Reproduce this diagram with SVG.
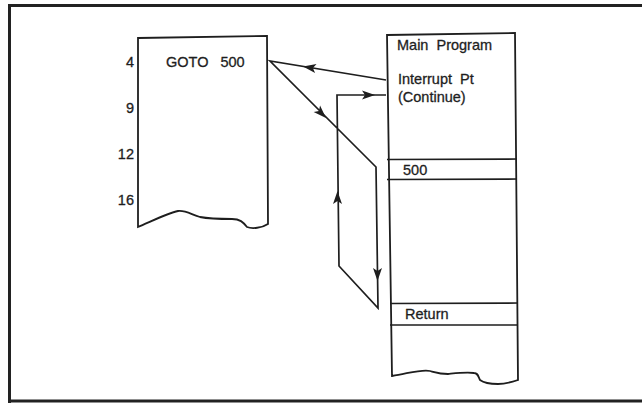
<svg xmlns="http://www.w3.org/2000/svg" width="642" height="403" viewBox="0 0 642 403">
<style>
  .ln { fill: none; stroke: #1e1e1e; stroke-width: 1.7; stroke-linejoin: miter; }
  .box { fill: #fff; stroke: #1e1e1e; stroke-width: 1.8; }
  .t { font-family: "Liberation Sans", Arial, sans-serif; font-size: 14.5px; fill: #1e1e1e; stroke: #1e1e1e; stroke-width: 0.3; word-spacing: 4px; }
  .ah { fill: #1e1e1e; }
</style>
<defs>
  <path id="ah" d="M0,0 L-13,-4.5 L-10,0 L-13,4.5 Z"/>
</defs>
<rect x="0" y="0" width="642" height="403" fill="#fff"/>
<g id="frame">
  <path d="M9.5,403 L9.5,5.5 L642,5.5 M9.5,401 L642,401" fill="none" stroke="#222" stroke-width="3"/>
</g>
<g id="left-listing">
  <path class="box" d="M138,38 L267,36 L268,224 C262,228 252,229 247,227 C243,222 240,219 232,219 C222,219 210,219 200,217 C192,215 186,210 178,211 C168,213 150,222 138,227 Z"/>
  <text class="t" x="166" y="67" style="word-spacing:8px">GOTO 500</text>
  <text class="t" x="134" y="67" text-anchor="end">4</text>
  <text class="t" x="134" y="113" text-anchor="end">9</text>
  <text class="t" x="134" y="159" text-anchor="end">12</text>
  <text class="t" x="134" y="205" text-anchor="end">16</text>
</g>
<g id="main-program">
  <path class="box" d="M387,35 L515,33 L518,380 C512,382 505,384 498,384 C490,384 484,383 480,380 C478,376 478,373 474,373 C466,372 458,373 448,374 C440,374 434,372 430,371 C422,369 410,373 392,376 Z"/>
  <path class="ln" d="M387,159.5 L517,159 M387,179.5 L517,179 M390,303.5 L518,303 M390,325 L518,325"/>
  <text class="t" x="397" y="50">Main Program</text>
  <text class="t" x="398" y="84">Interrupt Pt</text>
  <text class="t" x="398" y="102">(Continue)</text>
  <text class="t" x="403" y="175">500</text>
  <text class="t" x="405" y="319">Return</text>
</g>
<g id="connectors">
  <path class="ln" d="M386,80 L270,61 L376,167 L378,308 L339,266 L337,95 L386,95"/>
  <use href="#ah" class="ah" transform="translate(303,66.4) rotate(189.3)"/>
  <use href="#ah" class="ah" transform="translate(326,118) rotate(45.3)"/>
  <use href="#ah" class="ah" transform="translate(377.5,281) rotate(90)"/>
  <use href="#ah" class="ah" transform="translate(337.5,191) rotate(-90)"/>
  <use href="#ah" class="ah" transform="translate(375,95) rotate(0)"/>
</g>
</svg>
